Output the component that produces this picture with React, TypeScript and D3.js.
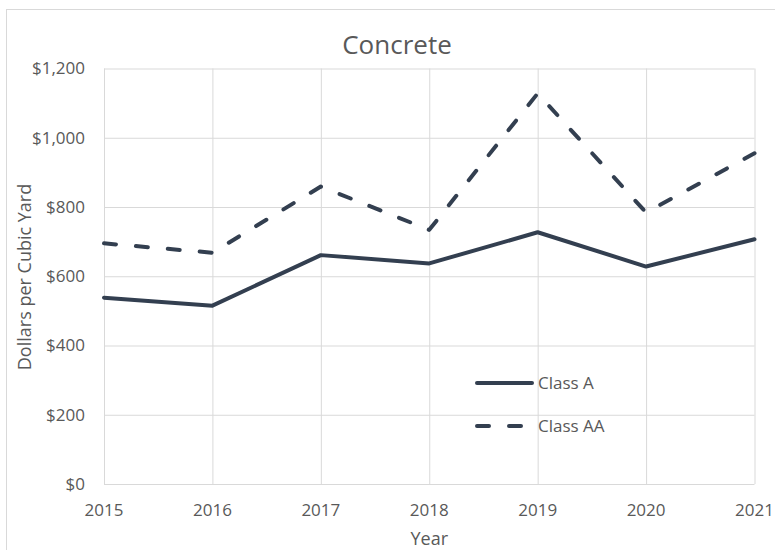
import React, { useEffect, useRef } from 'react';
import * as d3 from 'd3';

// Concrete unit prices
const years = [2015, 2016, 2017, 2018, 2019, 2020, 2021];
const classA = [538, 515, 661, 637, 727, 628, 707];
const classAA = [695, 668, 859, 734, 1128, 784, 955];
const yTicks = [0, 200, 400, 600, 800, 1000, 1200];

const LINE_COLOR = '#333f50';
const GRID_COLOR = '#d9d9d9';
const TEXT_COLOR = '#595959';
const FONT = '"Open Sans", "Noto Sans", sans-serif';

export default function App() {
  const ref = useRef<SVGSVGElement | null>(null);

  useEffect(() => {
    const node = ref.current;
    if (!node) return;
    const svg = d3.select(node);
    svg.selectAll('*').remove();

    const width = 775;
    const height = 550;
    const margin = { top: 68.5, right: 20.5, bottom: 66, left: 104 };
    const innerW = width - margin.left - margin.right;
    const innerH = height - margin.top - margin.bottom;

    svg.append('rect').attr('width', width).attr('height', height).attr('fill', '#fff');
    // outer chart border
    svg.append('rect').attr('x', 6.5).attr('y', 9.5).attr('width', width).attr('height', height)
      .attr('fill', 'none').attr('stroke', GRID_COLOR).attr('stroke-width', 1);

    const x = d3.scaleLinear().domain([years[0], years[years.length - 1]]).range([0, innerW]);
    const y = d3.scaleLinear().domain([0, 1200]).range([innerH, 0]);

    const g = svg.append('g').attr('transform', `translate(${margin.left},${margin.top})`);

    // Grids
    const xGrid = d3.axisBottom(x).tickValues(years).tickSize(-innerH).tickFormat(() => '');
    g.append('g').attr('class', 'grid-x').attr('transform', `translate(0,${innerH})`).call(xGrid)
      .selectAll('line').attr('stroke', GRID_COLOR).attr('stroke-width', 1);
    const yGrid = d3.axisLeft(y).tickValues(yTicks).tickSize(-innerW).tickFormat(() => '');
    g.append('g').attr('class', 'grid-y').call(yGrid)
      .selectAll('line').attr('stroke', GRID_COLOR).attr('stroke-width', 1);
    g.selectAll('path.domain').remove();
    g.selectAll('.tick text').remove();

    // Tick labels
    const fmt = d3.format('$,');
    g.append('g').selectAll('text').data(yTicks).enter().append('text')
      .attr('x', -19).attr('y', d => y(d)).attr('dy', '0.35em')
      .attr('text-anchor', 'end').attr('fill', TEXT_COLOR)
      .attr('font-family', FONT).attr('font-size', 17).text(d => fmt(d));
    g.append('g').selectAll('text').data(years).enter().append('text')
      .attr('x', d => x(d)).attr('y', innerH + 32)
      .attr('text-anchor', 'middle').attr('fill', TEXT_COLOR)
      .attr('font-family', FONT).attr('font-size', 17).text(d => String(d));

    // Lines
    const line = d3.line<number>().x((_, i) => x(years[i])).y(d => y(d));
    g.append('path').datum(classA).attr('fill', 'none').attr('stroke', LINE_COLOR)
      .attr('stroke-width', 4).attr('stroke-linejoin', 'round').attr('stroke-linecap', 'round').attr('d', line);
    g.append('path').datum(classAA).attr('fill', 'none').attr('stroke', LINE_COLOR)
      .attr('stroke-width', 4).attr('stroke-linejoin', 'round').attr('stroke-linecap', 'round')
      .attr('stroke-dasharray', '12,20').attr('d', line);

    // Legend
    const legend = [
      { label: 'Class A', dash: null, cy: 383 },
      { label: 'Class AA', dash: '12,20', cy: 426 },
    ];
    legend.forEach(item => {
      svg.append('line').attr('x1', 477).attr('x2', 532).attr('y1', item.cy).attr('y2', item.cy)
        .attr('stroke', LINE_COLOR).attr('stroke-width', 4).attr('stroke-linecap', 'round')
        .attr('stroke-dasharray', item.dash);
      svg.append('text').attr('x', 538).attr('y', item.cy).attr('dy', '0.35em')
        .attr('fill', TEXT_COLOR).attr('font-family', FONT).attr('font-size', 17).text(item.label);
    });

    // Title and axis titles
    svg.append('text').attr('x', 397).attr('y', 54).attr('text-anchor', 'middle')
      .attr('fill', TEXT_COLOR).attr('font-family', FONT).attr('font-size', 26).text('Concrete');
    svg.append('text').attr('x', margin.left + innerW / 2).attr('y', 545).attr('text-anchor', 'middle')
      .attr('fill', TEXT_COLOR).attr('font-family', FONT).attr('font-size', 18).text('Year');
    svg.append('text').attr('transform', 'rotate(-90)').attr('x', -277).attr('y', 31)
      .attr('text-anchor', 'middle').attr('fill', TEXT_COLOR).attr('font-family', FONT)
      .attr('font-size', 18).text('Dollars per Cubic Yard');
  }, []);

  return (
    <svg ref={ref} width={775} height={550}
      style={{ position: 'absolute', left: 0, top: 0, display: 'block' }} />
  );
}
